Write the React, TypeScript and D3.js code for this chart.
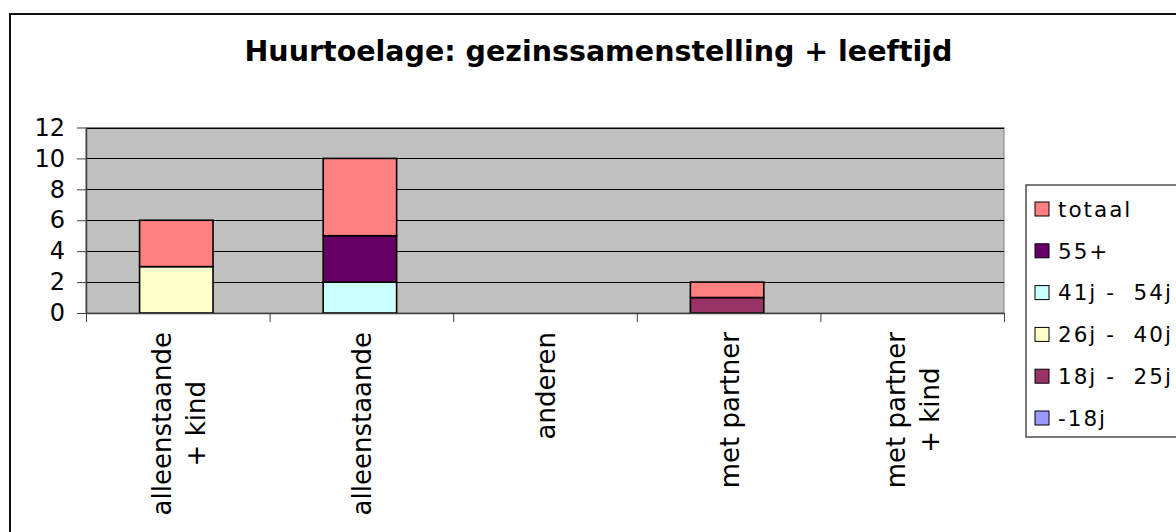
import { useEffect, useRef } from 'react';
import * as d3 from 'd3';

// categories (multi-line labels), bottom-to-top series
const categories = ['alleenstaande\n+ kind', 'alleenstaande', 'anderen', 'met partner', 'met partner\n+ kind'];
const seriesNames = ['-18j', '18j -  25j', '26j -  40j', '41j -  54j', '55+', 'totaal'];
const seriesColors = ['#9999FF', '#993366', '#FFFFCC', '#CCFFFF', '#660066', '#FF8080'];
const under18 = [0, 0, 0, 0, 0];
const age18to25 = [0, 0, 0, 1, 0];
const age26to40 = [3, 0, 0, 0, 0];
const age41to54 = [0, 2, 0, 0, 0];
const age55plus = [0, 3, 0, 0, 0];
const totaal = [3, 5, 0, 1, 0];
const yTicks = [0, 2, 4, 6, 8, 10, 12];
const title = 'Huurtoelage: gezinssamenstelling + leeftijd';

const W = 1176, H = 532;
const FONT = '"DejaVu Sans", Verdana, sans-serif';

export default function App() {
  const svgRef = useRef<SVGSVGElement>(null);

  useEffect(() => {
    document.body.style.margin = '0';
    const svg = d3.select(svgRef.current);
    svg.selectAll('*').remove();

    const left = 86, right = 1004, top = 127.5, bottom = 313;
    const seriesData = [under18, age18to25, age26to40, age41to54, age55plus, totaal];
    const rows = categories.map((c, i) => {
      const r: any = { key: c };
      seriesNames.forEach((s, j) => { r[s] = seriesData[j][i]; });
      return r;
    });

    const x = d3.scaleBand<string>().domain(categories).range([left, right]).paddingInner(0.6).paddingOuter(0.3);
    const xEdge = d3.scaleLinear().domain([0, categories.length]).range([left, right]);
    const y = d3.scaleLinear().domain([0, 12]).range([bottom, top]);
    const color = d3.scaleOrdinal<string, string>().domain(seriesNames).range(seriesColors);

    // chart border
    svg.append('rect').attr('x', 10).attr('y', 14).attr('width', W).attr('height', H)
      .attr('fill', '#fff').attr('stroke', '#111').attr('stroke-width', 2);

    svg.append('text').attr('x', 598.5).attr('y', 61).attr('text-anchor', 'middle')
      .attr('font-family', FONT).attr('font-weight', 'bold').attr('font-size', 28.5)
      .attr('fill', '#000').text(title);

    // plot area
    svg.append('rect').attr('x', left).attr('y', top).attr('width', right - left).attr('height', bottom - top)
      .attr('fill', '#C0C0C0').attr('stroke', '#808080').attr('stroke-width', 1);

    svg.append('g').selectAll('line').data(yTicks.filter(t => t > 0)).join('line')
      .attr('x1', left).attr('x2', right)
      .attr('y1', d => Math.round(y(d)) + 0.5).attr('y2', d => Math.round(y(d)) + 0.5)
      .attr('stroke', '#000').attr('stroke-width', 1);

    // bars
    const stacked = d3.stack<any>().keys(seriesNames)(rows);
    svg.append('g').selectAll('g').data(stacked).join('g')
      .attr('fill', d => color(d.key))
      .selectAll('rect').data(d => d.filter(p => p[1] - p[0] > 0)).join('rect')
      .attr('x', d => x(d.data.key)! - 1.5).attr('width', x.bandwidth())
      .attr('y', d => y(d[1])).attr('height', d => y(d[0]) - y(d[1]))
      .attr('stroke', '#000').attr('stroke-width', 1.6);

    // y axis
    const yAxis = svg.append('g').attr('transform', `translate(${left},0)`)
      .call(d3.axisLeft(y).tickValues(yTicks).tickSize(9).tickSizeOuter(0).tickPadding(12));
    yAxis.select('.domain').attr('stroke', '#404040').attr('stroke-width', 1.5);
    yAxis.selectAll('.tick line').attr('stroke', '#404040');
    yAxis.selectAll('.tick text').attr('font-family', FONT).attr('font-size', 24).attr('fill', '#000');

    // x axis (ticks between categories)
    const xAxis = svg.append('g').attr('transform', `translate(0,${bottom})`)
      .call(d3.axisBottom(xEdge).tickValues(d3.range(categories.length + 1)).tickSize(9).tickSizeOuter(0).tickFormat(() => ''));
    xAxis.select('.domain').attr('stroke', '#404040').attr('stroke-width', 1.5);
    xAxis.selectAll('.tick line').attr('stroke', '#404040');

    // rotated category labels
    const labelTop = 332, lineGap = 34;
    categories.forEach(c => {
      const lines = c.split('\n');
      const cx = x(c)! + x.bandwidth() / 2;
      const g = svg.append('g').attr('transform', `translate(${cx},${labelTop}) rotate(-90)`);
      const texts = lines.map((ln, i) => g.append('text')
        .attr('font-family', FONT).attr('font-size', 26).attr('fill', '#000')
        .attr('text-anchor', 'middle')
        .attr('y', (i - (lines.length - 1) / 2) * lineGap + 10)
        .text(ln));
      const maxW = d3.max(texts, t => (t.node() as SVGTextElement).getComputedTextLength()) || 0;
      texts.forEach(t => t.attr('x', -maxW / 2));
    });

    // legend
    const lg = svg.append('g');
    lg.append('rect').attr('x', 1026).attr('y', 185).attr('width', 200).attr('height', 252)
      .attr('fill', '#fff').attr('stroke', '#505050').attr('stroke-width', 1.5);
    const legendY = d3.scalePoint<string>().domain(seriesNames.slice().reverse()).range([209, 418]);
    const items = lg.selectAll('g.item').data(seriesNames.slice().reverse()).join('g')
      .attr('class', 'item').attr('transform', d => `translate(1035,${legendY(d)})`);
    items.append('rect').attr('x', 0).attr('y', -7).attr('width', 14).attr('height', 14)
      .attr('fill', d => color(d)).attr('stroke', '#000').attr('stroke-width', 1);
    items.append('text').attr('x', 23).attr('dy', '0.36em')
      .attr('font-family', FONT).attr('font-size', 21.5).attr('letter-spacing', 2)
      .style('white-space', 'pre').attr('fill', '#000').text(d => d);
  }, []);

  return (
    <div style={{ position: 'absolute', left: 0, top: 0, width: W, height: H, overflow: 'hidden' }}>
      <svg ref={svgRef} width={W} height={H} />
    </div>
  );
}
